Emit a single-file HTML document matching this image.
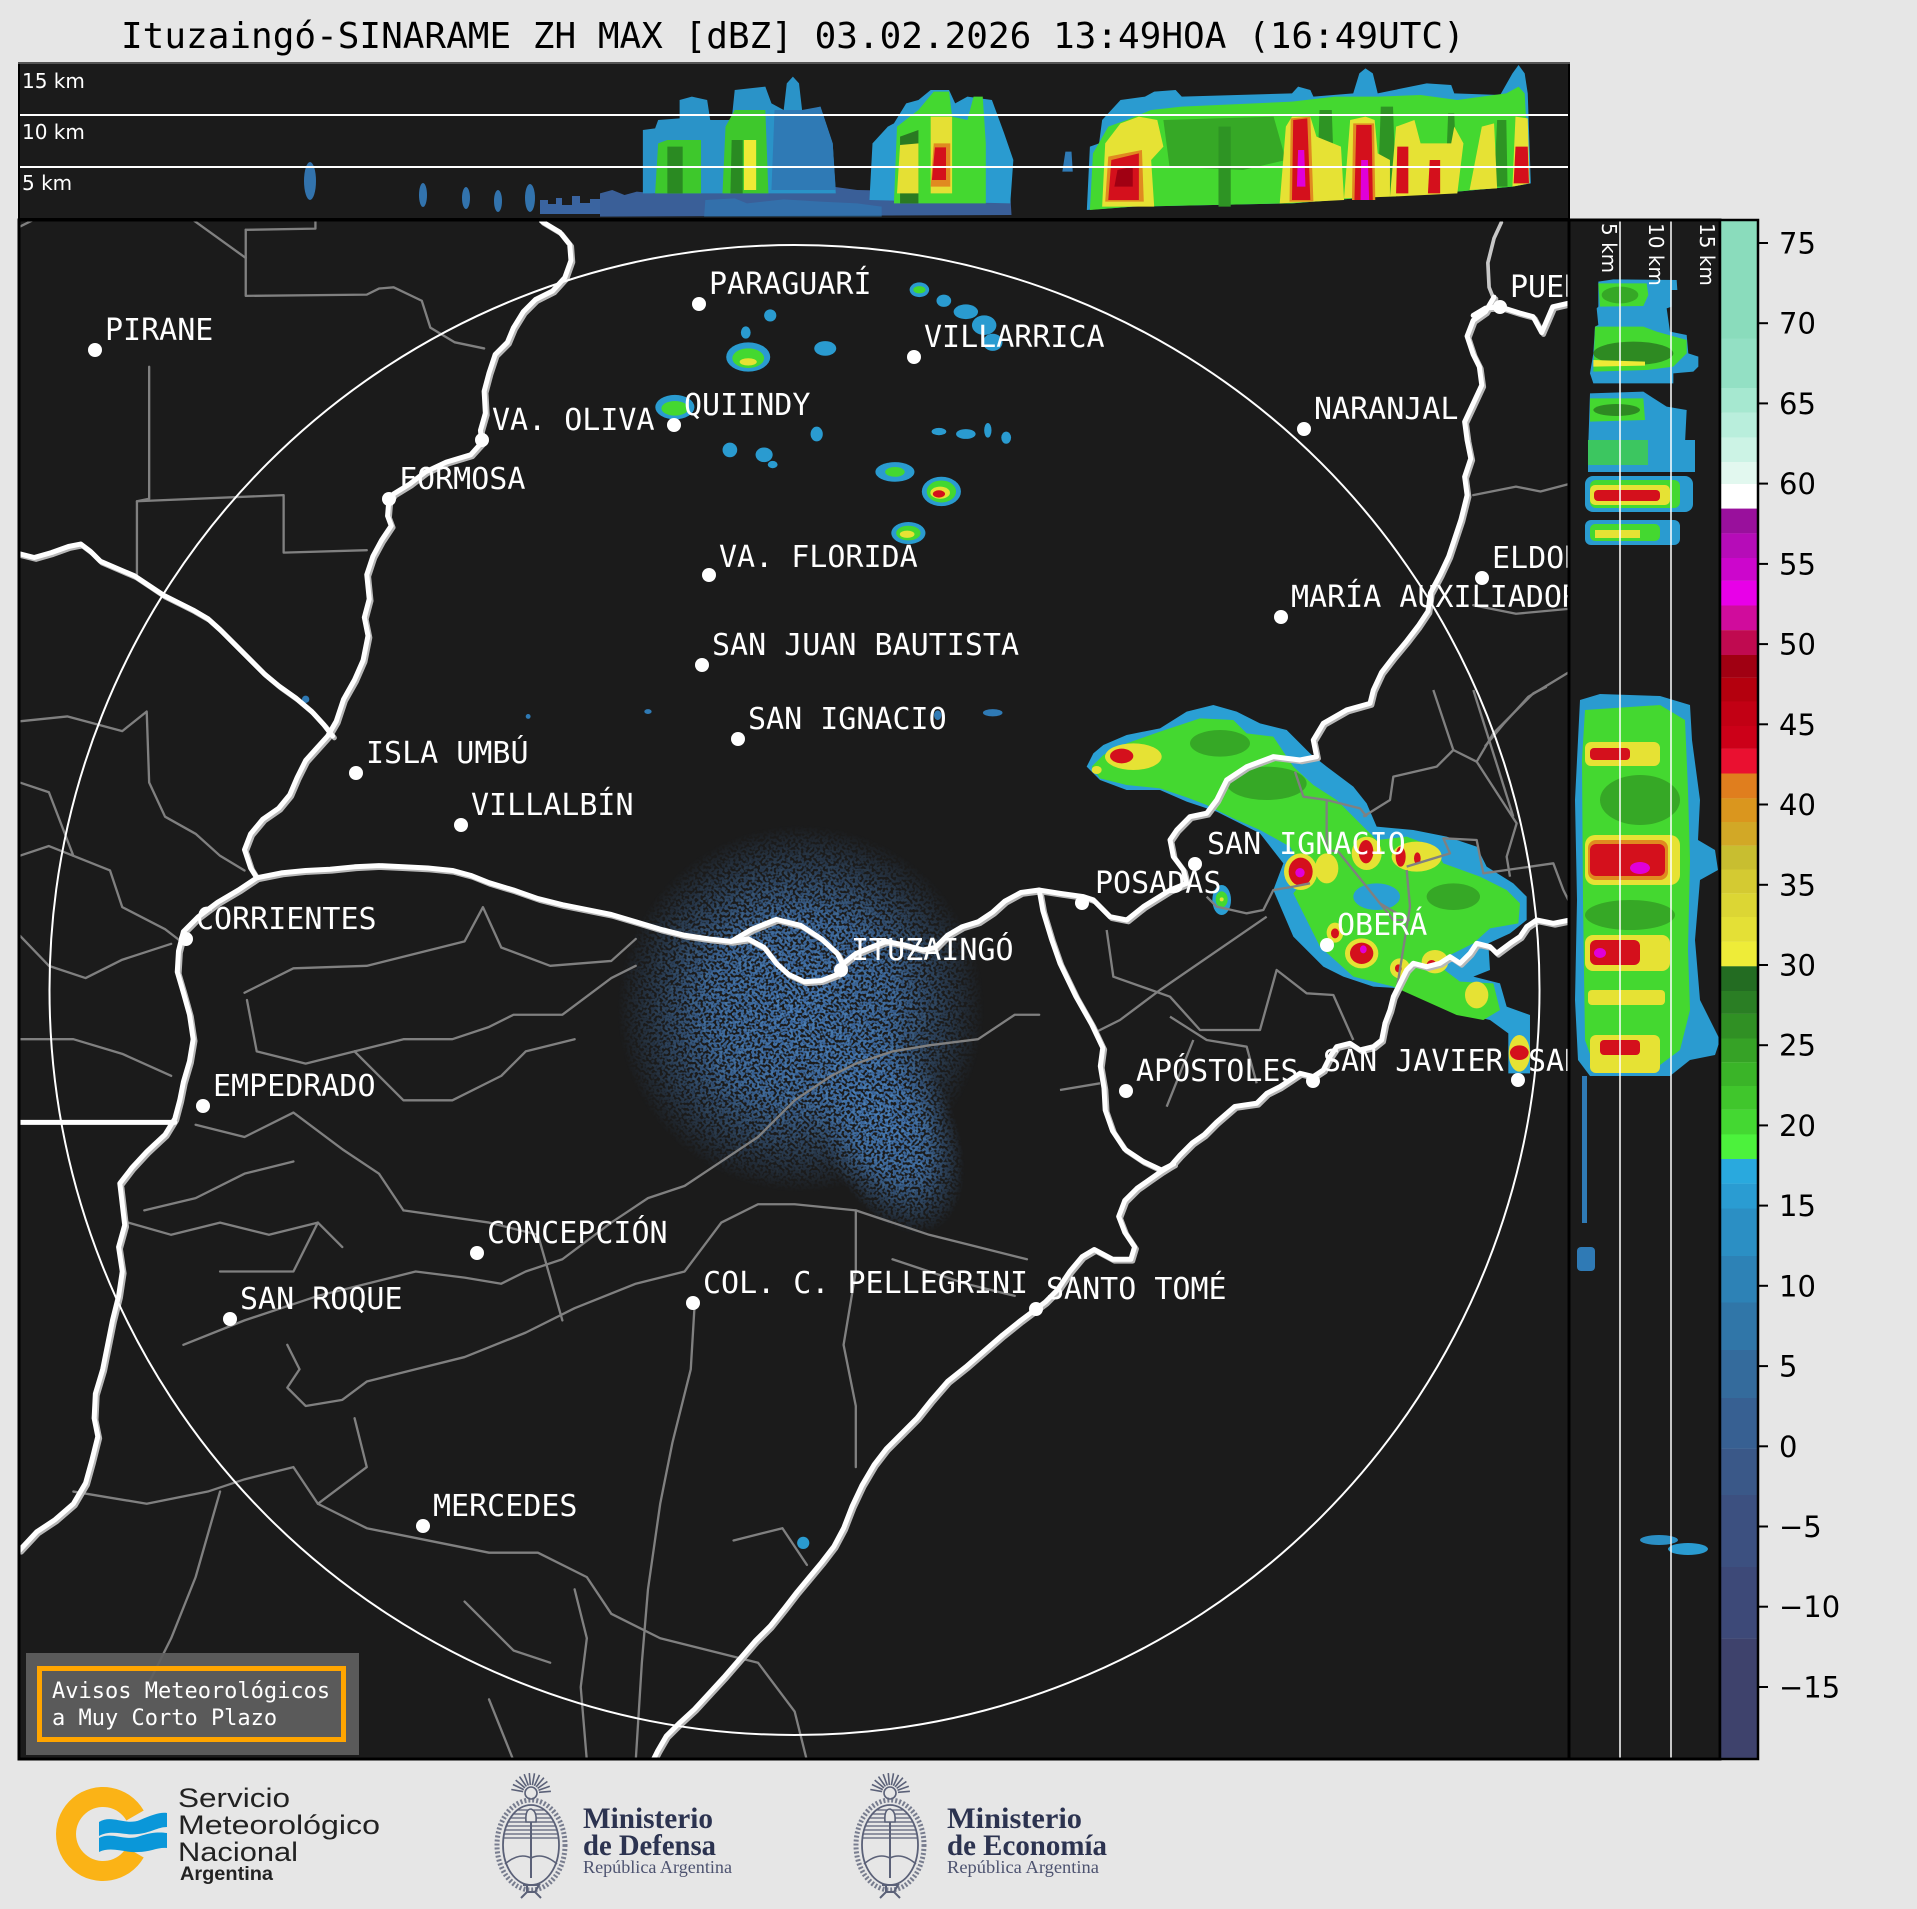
<!DOCTYPE html>
<html><head><meta charset="utf-8">
<style>
html,body{margin:0;padding:0;background:#e6e6e6;}
svg{display:block}
.lbl{font-family:"DejaVu Sans Mono","Liberation Mono",monospace;font-size:30px;fill:#fff}
.tk{font-family:"DejaVu Sans","Liberation Sans",sans-serif;font-size:29px;fill:#000}
.km{font-family:"DejaVu Sans","Liberation Sans",sans-serif;font-size:20px;fill:#fff}
.ttl{font-family:"DejaVu Sans Mono","Liberation Mono",monospace;font-size:36px;fill:#000}
.av{font-family:"DejaVu Sans Mono","Liberation Mono",monospace;font-size:22px;fill:#fff}
.smn{font-family:"Liberation Sans",sans-serif;fill:#222}
.min{font-family:"Liberation Serif",serif;font-weight:bold;fill:#2c3350}
.rep{font-family:"Liberation Serif",serif;fill:#4d5370}
</style></head>
<body>
<svg width="1917" height="1909" viewBox="0 0 1917 1909" xmlns="http://www.w3.org/2000/svg">
<defs>
<clipPath id="mapclip"><rect x="19" y="220" width="1550" height="1539"/></clipPath>
<clipPath id="topclip"><rect x="19" y="64" width="1550" height="154"/></clipPath>
<clipPath id="rclip"><rect x="1569" y="220" width="151" height="1539"/></clipPath>
<radialGradient id="cg"><stop offset="0" stop-color="#fff" stop-opacity="1"/><stop offset="0.5" stop-color="#fff" stop-opacity="0.85"/><stop offset="1" stop-color="#fff" stop-opacity="0"/></radialGradient>
<filter id="spk" filterUnits="userSpaceOnUse" x="470" y="630" width="420" height="430" color-interpolation-filters="sRGB">
<feTurbulence type="fractalNoise" baseFrequency="0.45" numOctaves="1" seed="7" result="n"/>
<feColorMatrix in="n" type="matrix" values="0 0.2 0 0 0.16  0 0.3 0 0 0.30  0 0.3 0 0 0.52  9 0 0 0 -3.7" result="d"/>
<feComposite in="d" in2="SourceAlpha" operator="in"/>
</filter>
<g id="esc" fill="none" stroke="#5b6178" stroke-width="1.6">
<path d="M-7.9,-48.4L-19.7,-50.5M-7.2,-50.4L-18.1,-55.5M-6.1,-52.1L-15.3,-59.9M-4.6,-53.6L-11.5,-63.4M-2.7,-54.5L-6.8,-65.8M-0.7,-55L-1.7,-66.9M1.4,-54.9L3.5,-66.7M3.4,-54.2L8.5,-65.1M5.1,-53.1L12.9,-62.3M6.6,-51.6L16.4,-58.5M7.5,-49.7L18.8,-53.8M8,-47.7L19.9,-48.7"/>
<circle cx="0" cy="-47" r="6"/>
<ellipse cx="0" cy="5" rx="34" ry="45" stroke-width="5" stroke-dasharray="2 2" opacity="0.8"/>
<ellipse cx="0" cy="5" rx="28" ry="40" stroke-width="1.8"/>
<path d="M-13.6,-30H13.6M-17.7,-26H17.7M-20.7,-22H20.7M-22.9,-18H22.9M-24.6,-14H24.6M-26,-10H26M-26.9,-6H26.9M-27.6,-2H27.6" stroke-width="1.2"/>
<path d="M0,-20V38" stroke-width="2"/>
<path d="M-5,-18Q-6,-31 0,-31Q6,-29 5,-18Z" fill="#e6e6e6"/>
<path d="M-26,24Q-12,12 0,18Q12,12 26,24"/>
<path d="M-8,45H8L4,52L10,58M-4,52L-10,58M-4,45V52H4" stroke-width="2"/>
</g>
</defs>

<rect x="0" y="0" width="1917" height="1909" fill="#e6e6e6"/>
<text class="ttl" x="121" y="48">Ituzaingó-SINARAME ZH MAX [dBZ] 03.02.2026 13:49HOA (16:49UTC)</text>

<!-- ===== TOP PANEL ===== -->
<rect x="19" y="63" width="1550" height="156" fill="#1b1b1b"/>
<g clip-path="url(#topclip)">
 <ellipse cx="310" cy="181" rx="6" ry="19" fill="#3273ad"/>
 <ellipse cx="423" cy="195" rx="4" ry="12" fill="#3273ad"/>
 <ellipse cx="466" cy="198" rx="4" ry="11" fill="#3273ad"/>
 <ellipse cx="498" cy="201" rx="4" ry="11" fill="#3273ad"/>
 <ellipse cx="530" cy="198" rx="5" ry="14" fill="#3273ad"/>
 <path d="M540,214V200H548V204H556V198H562V205H572V196H580V203H590V199H600V214Z" fill="#3a64a0"/>
 <g transform="translate(600,60) scale(0.61237,0.33333)">
  <path d="M0,470L0,400L20,390L40,405L60,395L90,400L130,385L160,395L200,380L240,390L280,385L330,395L380,380L420,390L470,392L520,400L600,395L640,410L670,405L672,465L0,470Z" fill="#3a5f98"/>
  <path d="M170,470L172,420L220,415L240,430L300,418L360,425L420,430L460,440L460,470Z" fill="#2e7cb8" opacity="0.6"/>
  <path d="M70,400L70,210L90,205L95,180L130,175L130,120L150,110L175,120L180,180L215,180L220,90L270,80L280,130L300,150L305,70L315,50L325,70L330,150L340,150L360,140L380,250L385,400Z" fill="#2a93c8"/>
  <path d="M280,390L285,150L330,150L360,140L380,250L385,390Z" fill="#2f7ab5"/>
  <path d="M90,400L95,250L110,240L165,240L165,400Z" fill="#3ec82c"/>
  <path d="M110,400L110,260L135,260L135,400Z" fill="#2a8a22"/>
  <path d="M200,400L205,200L220,150L270,150L275,400Z" fill="#3ec82c"/>
  <path d="M213,400L215,240L233,240L233,400Z" fill="#2a8a22"/>
  <path d="M235,390L235,240L255,240L255,390Z" fill="#eeea36"/>
  <path d="M440,420L445,250L470,200L480,190L500,130L520,120L540,90L570,90L580,130L600,110L640,120L660,220L675,300L670,430Z" fill="#2a9bd0"/>
  <path d="M480,430L485,200L520,150L545,95L570,95L575,170L600,180L610,110L625,110L630,250L630,430Z" fill="#44d830"/>
  <path d="M490,430L490,230L520,210L520,430Z" fill="#2a7a22"/>
  <path d="M485,400L490,255L520,250L520,400Z" fill="#e5e034"/>
  <path d="M540,400L540,170L575,170L575,400Z" fill="#e5e034"/>
  <path d="M540,380L545,250L572,250L572,380Z" fill="#e08a20"/>
  <path d="M542,360L547,262L565,262L565,360Z" fill="#d4101c"/>
  <path d="M755,335L760,275L770,275L772,335Z" fill="#2f7ab5"/>
  <path d="M795,450L800,260L815,250L820,180L850,120L890,110L905,95L940,90L950,110L1130,100L1140,80L1160,90L1165,110L1230,100L1240,40L1250,25L1262,40L1270,100L1350,70L1390,75L1395,100L1470,105L1490,40L1500,15L1510,40L1515,100L1520,370L1490,380L1400,395L1270,410L1130,430L870,440Z" fill="#2a9bd0"/>
  <path d="M800,450L805,280L830,200L860,180L900,150L950,140L1130,125L1200,110L1270,110L1340,105L1400,120L1440,110L1480,100L1500,80L1510,100L1518,370L1490,380L1400,395L1270,410L1130,430L870,440Z" fill="#44d830"/>
  <path d="M920,180L1100,170L1120,300L1050,330L930,320Z" fill="#36a826"/>
  <path d="M1170,420L1175,150L1195,150L1200,420Z" fill="#2e9424"/>
  <path d="M1270,410L1275,140L1295,140L1300,410Z" fill="#2e9424"/>
  <path d="M1380,400L1385,160L1395,160L1400,400Z" fill="#2e9424"/>
  <path d="M1460,380L1465,180L1480,180L1482,380Z" fill="#2e9424"/>
  <path d="M1010,440L1010,200L1030,200L1030,440Z" fill="#2e9424"/>
  <path d="M820,440L825,250L850,190L880,170L910,180L920,260L900,300L905,440Z" fill="#e6e234"/>
  <path d="M1110,430L1120,200L1130,170L1160,170L1170,230L1210,260L1215,420Z" fill="#e6e234"/>
  <path d="M1215,415L1225,180L1250,170L1265,180L1270,280L1290,300L1290,410Z" fill="#e6e234"/>
  <path d="M1290,410L1300,200L1330,180L1340,250L1390,250L1395,200L1410,250L1400,400Z" fill="#e6e234"/>
  <path d="M1420,390L1440,200L1460,190L1465,385Z" fill="#e6e234"/>
  <path d="M1490,380L1495,170L1515,175L1518,370Z" fill="#e6e234"/>
  <path d="M825,425L830,290L885,270L888,425Z" fill="#e08a20"/>
  <path d="M830,420L835,300L880,280L880,420Z" fill="#d4101c"/>
  <path d="M840,380L845,330L870,320L870,380Z" fill="#a00012"/>
  <path d="M1126,425L1128,175L1160,170L1165,425Z" fill="#e08a20"/>
  <path d="M1130,420L1132,180L1155,175L1160,420Z" fill="#d4101c"/>
  <path d="M1228,420L1230,190L1264,190L1266,420Z" fill="#e08a20"/>
  <path d="M1232,420L1235,195L1260,195L1262,420Z" fill="#d4101c"/>
  <path d="M1300,400L1302,260L1320,260L1320,400Z" fill="#d4101c"/>
  <path d="M1352,400L1355,300L1372,300L1372,400Z" fill="#d4101c"/>
  <path d="M1492,370L1495,260L1515,260L1517,370Z" fill="#d4101c"/>
  <path d="M1138,380L1140,270L1150,270L1152,380Z" fill="#e000d8"/>
  <path d="M1242,420L1243,300L1254,300L1256,420Z" fill="#e000d8"/>
 </g>
</g>
<line x1="19" y1="115" x2="1569" y2="115" stroke="#fff" stroke-width="2"/>
<line x1="19" y1="167" x2="1569" y2="167" stroke="#fff" stroke-width="2"/>
<text class="km" x="22" y="88">15 km</text>
<text class="km" x="22" y="139">10 km</text>
<text class="km" x="22" y="190">5 km</text>
<rect x="19" y="63" width="1550" height="156" fill="none" stroke="#000" stroke-width="2"/>
<line x1="18" y1="63" x2="1570" y2="63" stroke="#aaa" stroke-width="1"/>

<!-- ===== MAIN MAP ===== -->
<rect x="19" y="220" width="1550" height="1539" fill="#1b1b1b"/>
<g clip-path="url(#mapclip)">
 <g transform="scale(1.22258)">
  <g filter="url(#spk)">
   <ellipse cx="655" cy="825" rx="150" ry="150" fill="url(#cg)"/>
   <ellipse cx="725" cy="920" rx="55" ry="95" transform="rotate(-25 725 920)" fill="url(#cg)"/>
  </g>
  <ellipse cx="752" cy="237" rx="8" ry="6" fill="#2a9bd0"/><ellipse cx="752" cy="237" rx="5" ry="3" fill="#44d830"/>
  <ellipse cx="772" cy="246" rx="6" ry="5" fill="#2a9bd0"/><ellipse cx="790" cy="255" rx="10" ry="6" fill="#2a9bd0"/>
  <ellipse cx="805" cy="266" rx="10" ry="8" fill="#2a9bd0"/><ellipse cx="812" cy="280" rx="8" ry="7" fill="#2a9bd0"/>
  <ellipse cx="612" cy="292" rx="18" ry="12" fill="#2a9bd0"/><ellipse cx="612" cy="293" rx="13" ry="8" fill="#44d830"/><ellipse cx="612" cy="296" rx="7" ry="3" fill="#e6e234"/>
  <ellipse cx="610" cy="272" rx="4" ry="5" fill="#2a9bd0"/><ellipse cx="630" cy="258" rx="5" ry="5" fill="#2a9bd0"/>
  <ellipse cx="675" cy="285" rx="9" ry="6" fill="#2a9bd0"/>
  <ellipse cx="552" cy="333" rx="16" ry="10" fill="#2a9bd0"/><ellipse cx="552" cy="334" rx="11" ry="6" fill="#44d830"/>
  <ellipse cx="668" cy="355" rx="5" ry="6" fill="#2a9bd0"/>
  <ellipse cx="597" cy="368" rx="6" ry="6" fill="#2a9bd0"/><ellipse cx="625" cy="372" rx="7" ry="6" fill="#2a9bd0"/><ellipse cx="632" cy="380" rx="4" ry="3" fill="#2a9bd0"/>
  <ellipse cx="732" cy="386" rx="16" ry="8" fill="#2a9bd0"/><ellipse cx="732" cy="386" rx="8" ry="4" fill="#44d830"/>
  <ellipse cx="770" cy="402" rx="16" ry="12" fill="#2a9bd0"/><ellipse cx="770" cy="402" rx="12" ry="9" fill="#44d830"/><ellipse cx="769" cy="403" rx="8" ry="5" fill="#e6e234"/><ellipse cx="768" cy="404" rx="5" ry="3" fill="#d4101c"/>
  <ellipse cx="743" cy="436" rx="14" ry="9" fill="#2a9bd0"/><ellipse cx="743" cy="436" rx="10" ry="6" fill="#44d830"/><ellipse cx="742" cy="437" rx="6" ry="3" fill="#e6e234"/>
  <ellipse cx="768" cy="353" rx="6" ry="3" fill="#2a9bd0"/><ellipse cx="790" cy="355" rx="8" ry="4" fill="#2a9bd0"/><ellipse cx="808" cy="352" rx="3" ry="6" fill="#2a9bd0"/><ellipse cx="823" cy="358" rx="4" ry="5" fill="#2a9bd0"/>
  <ellipse cx="812" cy="583" rx="8" ry="3" fill="#2f7ab5"/><ellipse cx="767" cy="585" rx="3" ry="4" fill="#2f7ab5"/><ellipse cx="530" cy="582" rx="3" ry="2" fill="#2f7ab5"/><ellipse cx="432" cy="586" rx="2" ry="2" fill="#2f7ab5"/><ellipse cx="250" cy="572" rx="3" ry="3" fill="#2f7ab5"/>
  <ellipse cx="657" cy="1262" rx="5" ry="5" fill="#2a9bd0"/>
 </g>
 <g transform="translate(1060,690) scale(0.33333)">
  <path d="M80,230L100,190L130,165L200,135L300,115L380,65L460,45L530,65L600,100L680,120L750,190L800,230L880,290L920,340L950,410L1060,420L1160,440L1250,470L1280,530L1360,580L1400,620L1400,690L1350,730L1285,760L1290,840L1240,860L1320,880L1340,950L1410,975L1410,1150L1345,1150L1345,1030L1290,990L1180,965L1110,900L940,890L850,860L790,830L700,740L640,600L670,520L600,430L470,365L380,335L300,300L200,300L120,270Z" fill="#2a9fd4"/>
  <path d="M95,230L130,195L200,160L300,125L420,85L520,90L560,130L640,140L700,230L760,285L830,330L900,400L950,450L1040,440L1120,470L1150,520L1260,560L1340,600L1380,640L1375,700L1290,715L1240,760L1180,790L1120,815L1200,875L1300,880L1320,960L1270,990L1190,975L1000,890L880,860L780,770L740,690L700,610L740,560L690,470L600,420L520,385L440,345L380,322L300,295L200,285L120,265Z" fill="#44d830"/>
  <ellipse cx="480" cy="160" rx="90" ry="40" fill="#36a826"/>
  <ellipse cx="620" cy="280" rx="120" ry="50" fill="#36a826"/>
  <ellipse cx="1180" cy="620" rx="80" ry="40" fill="#36a826"/>
  <ellipse cx="950" cy="620" rx="70" ry="40" fill="#2a9fd4"/>
  <ellipse cx="220" cy="200" rx="85" ry="40" fill="#e6e234"/><ellipse cx="185" cy="198" rx="35" ry="22" fill="#d4101c"/><ellipse cx="110" cy="240" rx="15" ry="12" fill="#e6e234"/>
  <ellipse cx="722" cy="545" rx="50" ry="55" fill="#e6e234"/><ellipse cx="722" cy="545" rx="36" ry="42" fill="#d4101c"/><ellipse cx="720" cy="548" rx="14" ry="14" fill="#e000d8"/>
  <ellipse cx="800" cy="535" rx="35" ry="45" fill="#e6e234"/>
  <ellipse cx="920" cy="490" rx="45" ry="50" fill="#e6e234"/><ellipse cx="918" cy="485" rx="22" ry="35" fill="#d4101c"/>
  <ellipse cx="1070" cy="500" rx="75" ry="45" fill="#e6e234"/><ellipse cx="1022" cy="500" rx="15" ry="30" fill="#d4101c"/><ellipse cx="1072" cy="505" rx="10" ry="18" fill="#d4101c"/>
  <ellipse cx="825" cy="728" rx="25" ry="30" fill="#e6e234"/><ellipse cx="825" cy="730" rx="12" ry="15" fill="#d4101c"/>
  <ellipse cx="905" cy="790" rx="50" ry="45" fill="#e6e234"/><ellipse cx="905" cy="790" rx="35" ry="32" fill="#d4101c"/><ellipse cx="910" cy="778" rx="10" ry="12" fill="#e000d8"/>
  <ellipse cx="1020" cy="835" rx="30" ry="30" fill="#e6e234"/><ellipse cx="1015" cy="835" rx="10" ry="12" fill="#d4101c"/>
  <ellipse cx="1125" cy="815" rx="40" ry="35" fill="#e6e234"/><ellipse cx="1115" cy="825" rx="15" ry="15" fill="#d4101c"/>
  <ellipse cx="1250" cy="915" rx="35" ry="40" fill="#e6e234"/>
  <ellipse cx="1378" cy="1090" rx="32" ry="55" fill="#e6e234"/><ellipse cx="1378" cy="1088" rx="28" ry="22" fill="#d4101c"/>
  <ellipse cx="485" cy="630" rx="28" ry="45" fill="#2a9fd4"/><ellipse cx="485" cy="628" rx="18" ry="24" fill="#44d830"/><ellipse cx="485" cy="628" rx="6" ry="6" fill="#e6e234"/>
  <g fill="none" stroke="#808080" stroke-width="7" stroke-linejoin="round">
   <polyline points="705,245 730,320 800,330 900,355 920,380"/>
   <polyline points="800,330 800,480 835,485 960,640 1010,670"/>
   <polyline points="440,620 470,650 560,670 610,660 640,600 700,590 750,580"/>
   <polyline points="620,680 300,900 180,990 100,1030"/>
   <polyline points="1040,530 1170,490 1150,445 1250,450 1270,550 1480,520 1510,600 1530,640"/>
   <polyline points="1040,540 1050,650 1010,900"/>
   <polyline points="1120,0 1180,180 1130,230 1000,260 990,330 910,380"/>
   <polyline points="1180,180 1250,215 1300,130 1330,100 1420,10 1460,-10"/>
   <polyline points="1250,215 1370,400 1340,500 1350,560"/>
   <polyline points="1240,0 1360,380"/>
   <polyline points="140,720 160,860 330,920 420,1020 600,1020 650,840 740,910 820,915 880,1050"/>
   <polyline points="330,980 440,1050 560,1070 590,1180"/>
   <polyline points="400,1050 320,1250"/>
   <polyline points="0,1200 120,1180"/>
   <polyline points="960,640 1000,690 1050,690"/>
  </g>
 </g>
 <g transform="scale(1.22258)" fill="none" stroke-linejoin="round" stroke-linecap="round">
  <g stroke="#808080" stroke-width="1.9">
   <polyline points="15,186 27,180"/>
   <polyline points="158,180 201,211"/>
   <polyline points="201,188 258,187 258,180"/>
   <polyline points="201,188 201,242 300,241 310,236 322,235 345,246 352,268 372,280 396,285"/>
   <polyline points="122,300 122,408 112,410 112,470"/>
   <polyline points="112,410 232,405 232,452 300,450"/>
   <polyline points="16,590 55,586 100,598 120,582 122,640 135,668 160,682 180,700 200,712"/>
   <polyline points="16,640 40,648 60,700 90,712 100,742 135,760 148,770"/>
   <polyline points="16,700 40,692 60,700"/>
   <polyline points="16,765 40,790 70,800 100,785 140,772"/>
   <polyline points="16,850 60,850 100,862 140,880"/>
   <polyline points="200,812 240,792 300,790 340,780 380,770 395,742 410,775 450,790 500,786 520,768"/>
   <polyline points="202,818 210,860 250,870 290,860 330,850 370,850 400,840 420,830 460,830 500,800 520,790"/>
   <polyline points="290,860 330,900 370,900 410,880 430,860 470,850"/>
   <polyline points="160,920 200,930 240,910 280,940 310,960 330,990"/>
   <polyline points="118,990 160,980 200,960 240,950"/>
   <polyline points="105,1000 140,1010 180,1000 220,1010 260,1000 280,1020"/>
   <polyline points="180,1040 240,1040 260,1000"/>
   <polyline points="150,1100 200,1080 260,1060 300,1050 340,1040 380,1045 410,1050 430,1040 460,1030 500,1000 530,980 560,970 590,950 620,930 650,900 680,880 700,870 730,860 760,855 800,850 830,830 850,830"/>
   <polyline points="235,1100 245,1120 235,1135 250,1150 280,1145 300,1130 340,1120 380,1110 430,1090 470,1070 520,1050 560,1040 590,1000 620,985 650,985 700,990 730,1000 760,1010 800,1020 840,1030"/>
   <polyline points="330,990 400,1000 440,1010 460,1080"/>
   <polyline points="568,1070 565,1120 550,1180 540,1230 530,1300 525,1360 520,1440"/>
   <polyline points="700,990 700,1040 690,1100 700,1150 700,1200"/>
   <polyline points="730,1030 760,1040 790,1050 830,1060"/>
   <polyline points="60,1220 120,1230 170,1220 200,1210 240,1200 260,1230 300,1250 350,1260 400,1270 440,1270 480,1290 500,1320 540,1340 580,1350 620,1360 650,1400 660,1440"/>
   <polyline points="470,1300 480,1340 475,1380 480,1440"/>
   <polyline points="180,1220 160,1290 140,1340 120,1380"/>
   <polyline points="290,1160 300,1200 260,1230"/>
   <polyline points="600,1260 640,1250 660,1280"/>
   <polyline points="400,1390 420,1440"/>
   <polyline points="380,1310 420,1350 450,1360"/>
   <polyline points="1205,405 1240,398 1260,402 1283,396"/>
   <polyline points="1205,495 1240,502 1283,498"/>
   <polyline points="1283,550 1250,570 1230,592 1215,610"/>
  </g>
  <path d="M1228,182L1222,195L1217,215L1218,235L1222,245" stroke="#c8c8c8" stroke-width="3"/>
  <g stroke="#b8b8b8" stroke-width="4.1" transform="translate(1.5,1.5)">
   <path d="M1222,243L1215,255L1205,262L1200,275L1205,290L1210,300L1212,315L1205,330L1198,345L1200,360L1203,375L1198,390L1200,405L1195,425L1190,440L1185,455L1178,470L1170,485L1168,500L1160,512L1150,525L1140,537L1130,550L1123.3,564.4L1120.6,575.3L1101.5,580.7L1082.4,591.6L1074.2,605.3L1076.9,618.9L1063.3,621.6L1041.5,618.9L1019.7,627.1L1003.3,638L995.2,654.3L987,665.2L973.3,668L962.5,678.9L957,687L959.7,700.7L967.9,711.6L970.6,722.5L957,728L935.2,741.6L921.6,752.5L907.9,749.8L894.3,736.1L886.1,733.4L867,730.7L850,728L835,730L822,737L812,746L800,754L787,758L775,765L765,775L755,777L740,773L725,770L712,775L700,780L690,788L685,797L672,802L658,803L645,797L635,788L625,775L612,768L598,770L580,768L560,765L540,760L520,754L500,748L480,744L460,740L440,735L420,728L400,722L385,716L370,712L350,710L330,709L310,708L290,709L270,711L250,712L230,714L210,718L195,728L178,738L162,750L150,762L146,778L145,795L150,812L155,830L158,850L155,868L150,885L147,900L143,915L135,928L120,942L108,955L98,968L100,985L102,1002L97,1020L100,1040L97,1060L92,1080L88,1100L84,1120L78,1140L77,1160L80,1175L75,1195L70,1213L60,1230L45,1243L30,1253L16,1268"/>
   <path d="M598,770L615,760L635,752L655,757L672,768L685,780L690,790"/>
   <path d="M443,181L458,190L466,200L467,213L462,227L452,238L438,245L428,255L420,268L415,280L405,290L400,305L396,320L397,338L393,352L394,362L385,372L365,378L348,386L335,396L322,404L318,410L317,422L320,430L312,442L305,455L300,470L302,490L298,505L301,520L297,540L290,556L281,572L275,590L268,602L259,612L250,622L243,636L237,650L228,661L215,670L205,682L200,695L205,710L210,718"/>
   <path d="M16,453L28,456L42,452L56,447L66,445L74,451L82,459L96,465L110,471L122,479L134,487L146,493L158,499L170,506L180,515L192,527L205,540L216,551L228,561L242,571L255,582L265,593L272,602"/>
   <path d="M850,728L853,745L860,768L867,788L880,815L893,838L902,857L900,872L903,890L904,908L910,925L920,940L935,950L950,957L960,952"/>
   <path d="M1284.1,752.5L1270.5,755.2L1256.9,752.5L1248.7,758L1243.3,766.1L1235.1,771.6L1224.2,779.7L1218.7,774.3L1207.8,771.6L1202.4,779.7L1194.2,787.9L1186,782.5L1177.8,787.9L1166.9,790.7L1156,787.9L1150.6,793.4L1145.1,804.3L1139.7,815.2L1136.9,826.1L1132.8,837L1130.1,850.7L1123.3,856.1L1112.4,858.8L1104.2,853.4L1093.3,856.1L1087.8,864.3L1082.4,875.2L1074.2,880.6L1063.3,877.9L1055.1,883.4L1047,888.8L1036.1,894.3L1027.9,902.4L1010,905L995,918L985,928L975,935L965,945L958,953L950,958L940,965L930,972L920,982L915,995L920,1008L928,1020L925,1030L910,1030L895,1022L885,1028L875,1040L865,1055L855,1065L847,1071L835,1080L820,1092L805,1105L790,1118L775,1130L762,1145L750,1160L738,1172L725,1185L715,1198L705,1215L697,1232L690,1250L682,1265L672,1278L662,1290L652,1302L642,1315L630,1330L618,1342L605,1357L592,1372L580,1385L568,1398L555,1410L545,1420L538,1432L533,1442"/>
   <path d="M1205,258L1215,252L1227,251L1243,256L1254,259L1261,272L1270,251L1283,248"/>
  </g>
  <g stroke="#ffffff" stroke-width="4.1">
   <path d="M1222,243L1215,255L1205,262L1200,275L1205,290L1210,300L1212,315L1205,330L1198,345L1200,360L1203,375L1198,390L1200,405L1195,425L1190,440L1185,455L1178,470L1170,485L1168,500L1160,512L1150,525L1140,537L1130,550L1123.3,564.4L1120.6,575.3L1101.5,580.7L1082.4,591.6L1074.2,605.3L1076.9,618.9L1063.3,621.6L1041.5,618.9L1019.7,627.1L1003.3,638L995.2,654.3L987,665.2L973.3,668L962.5,678.9L957,687L959.7,700.7L967.9,711.6L970.6,722.5L957,728L935.2,741.6L921.6,752.5L907.9,749.8L894.3,736.1L886.1,733.4L867,730.7L850,728L835,730L822,737L812,746L800,754L787,758L775,765L765,775L755,777L740,773L725,770L712,775L700,780L690,788L685,797L672,802L658,803L645,797L635,788L625,775L612,768L598,770L580,768L560,765L540,760L520,754L500,748L480,744L460,740L440,735L420,728L400,722L385,716L370,712L350,710L330,709L310,708L290,709L270,711L250,712L230,714L210,718L195,728L178,738L162,750L150,762L146,778L145,795L150,812L155,830L158,850L155,868L150,885L147,900L143,915L135,928L120,942L108,955L98,968L100,985L102,1002L97,1020L100,1040L97,1060L92,1080L88,1100L84,1120L78,1140L77,1160L80,1175L75,1195L70,1213L60,1230L45,1243L30,1253L16,1268"/>
   <path d="M598,770L615,760L635,752L655,757L672,768L685,780L690,790"/>
   <path d="M443,181L458,190L466,200L467,213L462,227L452,238L438,245L428,255L420,268L415,280L405,290L400,305L396,320L397,338L393,352L394,362L385,372L365,378L348,386L335,396L322,404L318,410L317,422L320,430L312,442L305,455L300,470L302,490L298,505L301,520L297,540L290,556L281,572L275,590L268,602L259,612L250,622L243,636L237,650L228,661L215,670L205,682L200,695L205,710L210,718"/>
   <path d="M16,453L28,456L42,452L56,447L66,445L74,451L82,459L96,465L110,471L122,479L134,487L146,493L158,499L170,506L180,515L192,527L205,540L216,551L228,561L242,571L255,582L265,593L272,602"/>
   <path d="M850,728L853,745L860,768L867,788L880,815L893,838L902,857L900,872L903,890L904,908L910,925L920,940L935,950L950,957L960,952"/>
   <path d="M1284.1,752.5L1270.5,755.2L1256.9,752.5L1248.7,758L1243.3,766.1L1235.1,771.6L1224.2,779.7L1218.7,774.3L1207.8,771.6L1202.4,779.7L1194.2,787.9L1186,782.5L1177.8,787.9L1166.9,790.7L1156,787.9L1150.6,793.4L1145.1,804.3L1139.7,815.2L1136.9,826.1L1132.8,837L1130.1,850.7L1123.3,856.1L1112.4,858.8L1104.2,853.4L1093.3,856.1L1087.8,864.3L1082.4,875.2L1074.2,880.6L1063.3,877.9L1055.1,883.4L1047,888.8L1036.1,894.3L1027.9,902.4L1010,905L995,918L985,928L975,935L965,945L958,953L950,958L940,965L930,972L920,982L915,995L920,1008L928,1020L925,1030L910,1030L895,1022L885,1028L875,1040L865,1055L855,1065L847,1071L835,1080L820,1092L805,1105L790,1118L775,1130L762,1145L750,1160L738,1172L725,1185L715,1198L705,1215L697,1232L690,1250L682,1265L672,1278L662,1290L652,1302L642,1315L630,1330L618,1342L605,1357L592,1372L580,1385L568,1398L555,1410L545,1420L538,1432L533,1442"/>
   <path d="M1205,258L1215,252L1227,251L1243,256L1254,259L1261,272L1270,251L1283,248"/>
   <path d="M16,918L143,918"/>
  </g>
 </g>
 <circle cx="794.5" cy="990" r="745" fill="none" stroke="#fff" stroke-width="2"/>
 <g fill="#fff">
  <circle cx="95" cy="350" r="7"/><circle cx="699" cy="304" r="7"/><circle cx="914" cy="357" r="7"/>
  <circle cx="674" cy="425" r="7"/><circle cx="482" cy="440" r="7"/><circle cx="389" cy="499" r="7"/>
  <circle cx="1304" cy="429" r="7"/><circle cx="709" cy="575" r="7"/><circle cx="1482" cy="578" r="7"/>
  <circle cx="1281" cy="617" r="7"/><circle cx="702" cy="665" r="7"/><circle cx="738" cy="739" r="7"/>
  <circle cx="356" cy="773" r="7"/><circle cx="461" cy="825" r="7"/><circle cx="186" cy="939" r="7"/>
  <circle cx="1195" cy="864" r="7"/><circle cx="1082" cy="903" r="7"/><circle cx="841" cy="970" r="7"/>
  <circle cx="1327" cy="945" r="7"/><circle cx="1126" cy="1091" r="7"/><circle cx="1313" cy="1081" r="7"/>
  <circle cx="1518" cy="1080" r="7"/><circle cx="203" cy="1106" r="7"/><circle cx="477" cy="1253" r="7"/>
  <circle cx="230" cy="1319" r="7"/><circle cx="693" cy="1303" r="7"/><circle cx="1036" cy="1309" r="7"/>
  <circle cx="423" cy="1526" r="7"/><circle cx="1500" cy="307" r="7"/>
 </g>
 <g class="lbl">
  <text x="105" y="340">PIRANE</text>
  <text x="709" y="294">PARAGUARÍ</text>
  <text x="924" y="347">VILLARRICA</text>
  <text x="684" y="415">QUIINDY</text>
  <text x="492" y="430">VA. OLIVA</text>
  <text x="399" y="489">FORMOSA</text>
  <text x="1314" y="419">NARANJAL</text>
  <text x="719" y="567">VA. FLORIDA</text>
  <text x="1492" y="568">ELDORADO</text>
  <text x="1291" y="607">MARÍA AUXILIADORA</text>
  <text x="712" y="655">SAN JUAN BAUTISTA</text>
  <text x="748" y="729">SAN IGNACIO</text>
  <text x="366" y="763">ISLA UMBÚ</text>
  <text x="471" y="815">VILLALBÍN</text>
  <text x="196" y="929">CORRIENTES</text>
  <text x="1207" y="854">SAN IGNACIO</text>
  <text x="1095" y="893">POSADAS</text>
  <text x="851" y="960">ITUZAINGÓ</text>
  <text x="1337" y="935">OBERÁ</text>
  <text x="1136" y="1081">APÓSTOLES</text>
  <text x="1323" y="1071">SAN JAVIER</text>
  <text x="1528" y="1071">SAN BORJA</text>
  <text x="213" y="1096">EMPEDRADO</text>
  <text x="487" y="1243">CONCEPCIÓN</text>
  <text x="240" y="1309">SAN ROQUE</text>
  <text x="703" y="1293">COL. C. PELLEGRINI</text>
  <text x="1046" y="1299">SANTO TOMÉ</text>
  <text x="433" y="1516">MERCEDES</text>
  <text x="1510" y="297">PUERTO IGUAZÚ</text>
 </g>
 <rect x="26" y="1653" width="333" height="102" fill="#5e5e5e" fill-opacity="0.95"/>
 <rect x="39.5" y="1668.5" width="304" height="71" fill="none" stroke="#ffa500" stroke-width="5"/>
 <text class="av" x="52" y="1698">Avisos Meteorológicos</text>
 <text class="av" x="52" y="1725">a Muy Corto Plazo</text>
</g>
<rect x="19" y="220" width="1550" height="1539" fill="none" stroke="#000" stroke-width="3"/>

<!-- ===== RIGHT PANEL ===== -->
<rect x="1569" y="220" width="151" height="1539" fill="#1b1b1b"/>
<g clip-path="url(#rclip)">
 <g transform="translate(1500,180) scale(0.33333)">
  <path d="M295,305L340,298L530,300L532,330L515,330L515,380L500,385L510,455L560,465L565,520L595,530L595,560L580,575L520,580L520,610L280,610L270,580L280,520L285,440L295,435L290,385L295,380Z" fill="#2a9bd0"/>
  <path d="M295,310L440,310L445,345L430,378L300,380Z" fill="#44d830"/>
  <ellipse cx="360" cy="345" rx="55" ry="25" fill="#36a826"/>
  <path d="M285,440L430,440L470,455L560,480L560,520L520,560L440,570L280,575Z" fill="#44d830"/>
  <ellipse cx="400" cy="520" rx="120" ry="35" fill="#2e8a22"/>
  <path d="M280,540L435,545L435,557L280,560Z" fill="#eeea36"/>
  <path d="M270,640L430,635L500,680L560,690L555,790L265,790Z" fill="#2a9bd0"/>
  <path d="M270,655L430,655L435,720L270,725Z" fill="#44d830"/>
  <ellipse cx="350" cy="690" rx="70" ry="18" fill="#2e8a22"/>
 </g>
 <rect x="1588" y="440" width="107" height="32" fill="#2a9bd0"/>
 <rect x="1588" y="440" width="60" height="25" fill="#44d830" opacity="0.7"/>
 <rect x="1585" y="476" width="108" height="36" rx="8" fill="#2a9bd0"/>
 <rect x="1590" y="480" width="90" height="28" rx="6" fill="#44d830"/>
 <rect x="1590" y="485" width="80" height="20" rx="5" fill="#e6e234"/>
 <rect x="1594" y="490" width="66" height="11" rx="4" fill="#d4101c"/>
 <rect x="1585" y="520" width="95" height="25" rx="6" fill="#2a9bd0"/>
 <rect x="1590" y="524" width="70" height="17" rx="5" fill="#44d830"/>
 <rect x="1595" y="530" width="45" height="8" fill="#e6e234"/>
 <path d="M1580,700L1600,694L1660,696L1690,705L1692,740L1700,800L1698,840L1715,850L1718,870L1700,880L1695,940L1700,1000L1720,1040L1715,1055L1690,1060L1670,1076L1590,1076L1578,1060L1575,1000L1577,900L1575,800L1578,740Z" fill="#2a9bd0"/>
 <path d="M1585,710L1660,705L1685,720L1688,790L1690,860L1688,950L1690,1010L1680,1050L1660,1065L1595,1068L1585,1040L1583,900L1582,760Z" fill="#44d830"/>
 <ellipse cx="1640" cy="800" rx="40" ry="25" fill="#36a826"/>
 <ellipse cx="1630" cy="915" rx="45" ry="15" fill="#36a826"/>
 <rect x="1585" y="742" width="75" height="24" rx="6" fill="#e6e234"/>
 <rect x="1590" y="748" width="40" height="12" rx="4" fill="#d4101c"/>
 <rect x="1585" y="835" width="95" height="50" rx="10" fill="#e6e234"/>
 <rect x="1588" y="840" width="80" height="40" rx="8" fill="#e08a20"/>
 <rect x="1590" y="844" width="75" height="32" rx="6" fill="#d4101c"/>
 <ellipse cx="1640" cy="868" rx="10" ry="6" fill="#e000d8"/>
 <rect x="1585" y="935" width="85" height="36" rx="8" fill="#e6e234"/>
 <rect x="1590" y="940" width="50" height="25" rx="6" fill="#d4101c"/>
 <ellipse cx="1600" cy="953" rx="6" ry="5" fill="#e000d8"/>
 <rect x="1588" y="990" width="77" height="15" rx="4" fill="#e6e234"/>
 <rect x="1590" y="1035" width="70" height="38" rx="6" fill="#e6e234"/>
 <rect x="1600" y="1040" width="40" height="15" rx="4" fill="#d4101c"/>
 <rect x="1582" y="1076" width="5" height="147" fill="#2f7ab5"/>
 <rect x="1577" y="1247" width="18" height="24" rx="4" fill="#2f7ab5"/>
 <ellipse cx="1659" cy="1540" rx="19" ry="5" fill="#2b8fc4"/>
 <ellipse cx="1688" cy="1549" rx="20" ry="6" fill="#2a9bd0"/>
</g>
<line x1="1620" y1="220" x2="1620" y2="1759" stroke="#fff" stroke-width="1.5"/>
<line x1="1671" y1="220" x2="1671" y2="1759" stroke="#fff" stroke-width="1.5"/>
<text class="km" transform="translate(1602,223) rotate(90)">5 km</text>
<text class="km" transform="translate(1649,223) rotate(90)">10 km</text>
<text class="km" transform="translate(1700,223) rotate(90)">15 km</text>
<rect x="1569" y="220" width="151" height="1539" fill="none" stroke="#000" stroke-width="3"/>

<!-- ===== COLORBAR ===== -->
<g>
 <rect x="1720" y="220" width="38" height="119" fill="#8adcbc"/>
 <rect x="1720" y="338.6" width="38" height="49.5" fill="#93e0c4"/>
 <rect x="1720" y="388" width="38" height="24.8" fill="#a6e8d0"/>
 <rect x="1720" y="412.7" width="38" height="24.8" fill="#b9eedc"/>
 <rect x="1720" y="437.4" width="38" height="24.7" fill="#ccf3e5"/>
 <rect x="1720" y="462" width="38" height="22.1" fill="#e2f8ef"/>
 <rect x="1720" y="484" width="38" height="24.7" fill="#ffffff"/>
 <rect x="1720" y="508.6" width="38" height="24.8" fill="#99109c"/>
 <rect x="1720" y="533.3" width="38" height="24.8" fill="#b60cb8"/>
 <rect x="1720" y="558" width="38" height="22.9" fill="#cc06cc"/>
 <rect x="1720" y="580.8" width="38" height="24.8" fill="#e800e8"/>
 <rect x="1720" y="605.5" width="38" height="24.8" fill="#d00c9c"/>
 <rect x="1720" y="630.2" width="38" height="24.9" fill="#c00a50"/>
 <rect x="1720" y="655" width="38" height="22.8" fill="#a00012"/>
 <rect x="1720" y="677.7" width="38" height="23.8" fill="#b4000e"/>
 <rect x="1720" y="701.4" width="38" height="24.7" fill="#c20014"/>
 <rect x="1720" y="726" width="38" height="22.9" fill="#cc0018"/>
 <rect x="1720" y="748.8" width="38" height="24.8" fill="#ea1030"/>
 <rect x="1720" y="773.5" width="38" height="24.9" fill="#e07e1e"/>
 <rect x="1720" y="798.3" width="38" height="23.8" fill="#da961e"/>
 <rect x="1720" y="822" width="38" height="23.8" fill="#d2a826"/>
 <rect x="1720" y="845.7" width="38" height="23.9" fill="#c8be30"/>
 <rect x="1720" y="869.5" width="38" height="23.8" fill="#d4ca32"/>
 <rect x="1720" y="893.2" width="38" height="23.9" fill="#dcd634"/>
 <rect x="1720" y="917" width="38" height="24.7" fill="#e4e036"/>
 <rect x="1720" y="941.6" width="38" height="24.8" fill="#eeec38"/>
 <rect x="1720" y="966.3" width="38" height="24.8" fill="#236c22"/>
 <rect x="1720" y="991" width="38" height="22.9" fill="#2a7e24"/>
 <rect x="1720" y="1013.8" width="38" height="24.8" fill="#309024"/>
 <rect x="1720" y="1038.5" width="38" height="23.8" fill="#36a226"/>
 <rect x="1720" y="1062.2" width="38" height="23.9" fill="#3ab428"/>
 <rect x="1720" y="1086" width="38" height="23.8" fill="#40c62c"/>
 <rect x="1720" y="1109.7" width="38" height="24.8" fill="#44d832"/>
 <rect x="1720" y="1134.4" width="38" height="24.7" fill="#4cf23c"/>
 <rect x="1720" y="1159" width="38" height="24.9" fill="#29a9de"/>
 <rect x="1720" y="1183.8" width="38" height="24.8" fill="#2a9cd2"/>
 <rect x="1720" y="1208.5" width="38" height="47.6" fill="#2b8fc4"/>
 <rect x="1720" y="1256" width="38" height="46.6" fill="#2d82b6"/>
 <rect x="1720" y="1302.5" width="38" height="47.6" fill="#3076a8"/>
 <rect x="1720" y="1350" width="38" height="48.1" fill="#346b9c"/>
 <rect x="1720" y="1398" width="38" height="50.9" fill="#376092"/>
 <rect x="1720" y="1448.8" width="38" height="46.3" fill="#3a5888"/>
 <rect x="1720" y="1495" width="38" height="72.1" fill="#3c5080"/>
 <rect x="1720" y="1567" width="38" height="71.7" fill="#3d4978"/>
 <rect x="1720" y="1638.6" width="38" height="120.4" fill="#3e426c"/>
 <rect x="1720" y="220" width="38" height="1539" fill="none" stroke="#000" stroke-width="2.5"/>
</g>
<g stroke="#000" stroke-width="2">
 <line x1="1758" y1="243" x2="1768" y2="243"/><line x1="1758" y1="323.2" x2="1768" y2="323.2"/>
 <line x1="1758" y1="403.4" x2="1768" y2="403.4"/><line x1="1758" y1="483.6" x2="1768" y2="483.6"/>
 <line x1="1758" y1="563.9" x2="1768" y2="563.9"/><line x1="1758" y1="644.1" x2="1768" y2="644.1"/>
 <line x1="1758" y1="724.3" x2="1768" y2="724.3"/><line x1="1758" y1="804.5" x2="1768" y2="804.5"/>
 <line x1="1758" y1="884.8" x2="1768" y2="884.8"/><line x1="1758" y1="965" x2="1768" y2="965"/>
 <line x1="1758" y1="1045.2" x2="1768" y2="1045.2"/><line x1="1758" y1="1125.4" x2="1768" y2="1125.4"/>
 <line x1="1758" y1="1205.6" x2="1768" y2="1205.6"/><line x1="1758" y1="1285.8" x2="1768" y2="1285.8"/>
 <line x1="1758" y1="1366.1" x2="1768" y2="1366.1"/><line x1="1758" y1="1446.3" x2="1768" y2="1446.3"/>
 <line x1="1758" y1="1526.5" x2="1768" y2="1526.5"/><line x1="1758" y1="1606.7" x2="1768" y2="1606.7"/>
 <line x1="1758" y1="1687" x2="1768" y2="1687"/>
</g>
<g class="tk">
 <text x="1779" y="253.5">75</text><text x="1779" y="333.7">70</text><text x="1779" y="413.9">65</text>
 <text x="1779" y="494.1">60</text><text x="1779" y="574.4">55</text><text x="1779" y="654.6">50</text>
 <text x="1779" y="734.8">45</text><text x="1779" y="815">40</text><text x="1779" y="895.3">35</text>
 <text x="1779" y="975.5">30</text><text x="1779" y="1055.7">25</text><text x="1779" y="1135.9">20</text>
 <text x="1779" y="1216.1">15</text><text x="1779" y="1296.3">10</text><text x="1779" y="1376.6">5</text>
 <text x="1779" y="1456.8">0</text><text x="1779" y="1537">−5</text><text x="1779" y="1617.2">−10</text>
 <text x="1779" y="1697.5">−15</text>
</g>

<!-- ===== LOGOS ===== -->
<path d="M143.7,1857.5A47,47 0 1 1 143.7,1810.5L126.4,1820.5A27,27 0 1 0 126.4,1847.5Z" fill="#fbb316"/>
<path d="M99,1822C112,1814 125,1826 140,1820C152,1815 160,1812 167,1813L167,1827C158,1827 150,1833 138,1834C124,1836 112,1829 99,1836Z" fill="#0a97d9"/>
<path d="M99,1838C112,1831 125,1842 140,1836C152,1832 160,1832 167,1833L167,1848C158,1847 150,1852 138,1852C124,1853 112,1846 99,1852Z" fill="#0a97d9"/>
<text class="smn" x="178" y="1807" font-size="27" textLength="112" lengthAdjust="spacingAndGlyphs">Servicio</text>
<text class="smn" x="178" y="1834" font-size="27" textLength="202" lengthAdjust="spacingAndGlyphs">Meteorológico</text>
<text class="smn" x="178" y="1861" font-size="27" textLength="120" lengthAdjust="spacingAndGlyphs">Nacional</text>
<text class="smn" x="180" y="1880" font-size="19" font-weight="bold" textLength="93" lengthAdjust="spacingAndGlyphs">Argentina</text>

<use href="#esc" transform="translate(531,1840)"/>
<use href="#esc" transform="translate(890,1840)"/>
<text class="min" x="583" y="1828" font-size="30" textLength="130" lengthAdjust="spacingAndGlyphs">Ministerio</text>
<text class="min" x="583" y="1855" font-size="30" textLength="133" lengthAdjust="spacingAndGlyphs">de Defensa</text>
<text class="rep" x="583" y="1873" font-size="18" textLength="149" lengthAdjust="spacingAndGlyphs">República Argentina</text>
<text class="min" x="947" y="1828" font-size="30" textLength="135" lengthAdjust="spacingAndGlyphs">Ministerio</text>
<text class="min" x="947" y="1855" font-size="30" textLength="160" lengthAdjust="spacingAndGlyphs">de Economía</text>
<text class="rep" x="947" y="1873" font-size="18" textLength="152" lengthAdjust="spacingAndGlyphs">República Argentina</text>
</svg>
</body></html>
